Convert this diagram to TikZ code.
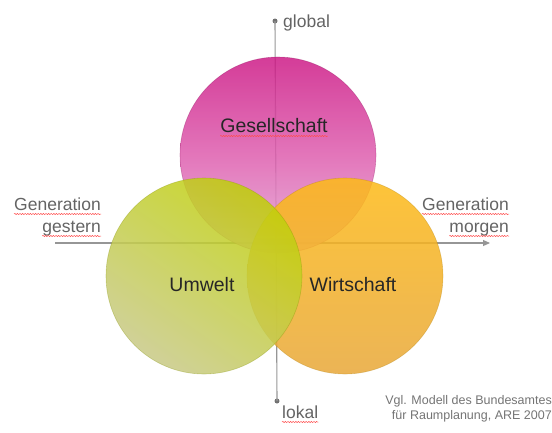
\documentclass[tikz,border=0pt]{standalone}
\usepackage{fontspec}
\setmainfont{Liberation Sans}
\usepackage{xcolor}
\usepackage{tikz}
\usetikzlibrary{positioning,calc,arrows.meta,decorations.pathmorphing}
\definecolor{AchseGrau}{RGB}{150,150,150}
\definecolor{TextGrau}{RGB}{100,100,100}
\definecolor{GesOben}{RGB}{205,28,135}
\definecolor{GesMitte}{RGB}{222,95,175}
\definecolor{GesUnten}{RGB}{228,170,215}
\definecolor{UmwOben}{RGB}{192,208,8}
\definecolor{UmwUnten}{RGB}{200,202,135}
\definecolor{WirOben}{RGB}{253,186,24}
\definecolor{WirUnten}{RGB}{232,168,58}
\tikzset{
    kreis/.style={circle, minimum size=196pt, inner sep=0pt, fill opacity=0.86, draw opacity=0.35, line width=0.6pt},
    kreistext/.style={font=\fontsize{19.5}{22}\selectfont, text=black!85, inner sep=0pt},
    achse/.style={draw=AchseGrau, line width=1.1pt},
    punkt/.style={circle, fill=AchseGrau!75!black, inner sep=0pt, minimum size=5pt},
    beschriftung/.style={text=TextGrau, font=\fontsize{17.5}{22}\selectfont, inner sep=0pt},
    quelle/.style={text=TextGrau!90, font=\fontsize{12.5}{14.5}\selectfont, inner sep=0pt, align=right},
    rotwelle/.style={draw=red!70, line width=0.5pt, decorate, decoration={snake, amplitude=0.6pt, segment length=2.6pt}}
}

\begin{document}
\begin{tikzpicture}[x=1pt, y=-1pt]
    % --- RAHMEN ---
    \useasboundingbox (0,0) rectangle (552,432);

    % --- ACHSEN ---
    \node[punkt] (global) at (275,21) {};
    \node[punkt] (lokal) at (277,401) {};
    \coordinate (gestern) at (55,243);
    \coordinate (morgen) at (490,243);
    \draw[achse] (global.center) -- (lokal.center); % lokal - global
    \draw[achse, -{Triangle[length=7pt, width=6pt]}] (gestern) -- (morgen); % gestern - morgen

    % --- KREISE ---
    \node[kreis, top color=GesOben, bottom color=GesUnten, middle color=GesMitte, draw=GesOben!70!black] (gesellschaft) at (278,155) {};
    \node[kreis, top color=WirOben, bottom color=WirUnten, draw=WirOben!70!black] (wirtschaft) at (345,276) {};
    \node[kreis, top color=UmwOben, bottom color=UmwUnten, shading angle=-35, draw=UmwOben!70!black] (umwelt) at (204,276) {};

    % --- KREISTEXTE ---
    \node[kreistext, anchor=base] (gesText) at (274,132) {Gesellschaft};
    \node[kreistext, anchor=base] (umwText) at (202,291) {Umwelt};
    \node[kreistext, anchor=base] (wirText) at (353,291) {Wirtschaft};

    % --- BESCHRIFTUNG ---
    \node[beschriftung, anchor=base west] (globalText) at (283,27) {global};
    \node[beschriftung, anchor=base west] (lokalText) at (282,418) {lokal};
    \node[beschriftung, anchor=base east] (genLinks) at (101,210) {Generation};
    \node[beschriftung, anchor=base east] (gesternText) at (101,232) {gestern};
    \node[beschriftung, anchor=base east] (genRechts) at (509,210) {Generation};
    \node[beschriftung, anchor=base east] (morgenText) at (509,232) {morgen};
    \node[quelle, anchor=base east] (quelle) at (552,419) {Vgl. Modell des Bundesamtes\\f\"ur Raumplanung, ARE 2007};

    % --- ROTE WELLEN (Rechtschreibung) ---
    \foreach \wort in {gesText, lokalText, genLinks, gesternText, genRechts, morgenText}
        \draw[rotwelle] ($(\wort.base west)+(0,4)$) -- ($(\wort.base east)+(0,4)$);
\end{tikzpicture}
\end{document}
